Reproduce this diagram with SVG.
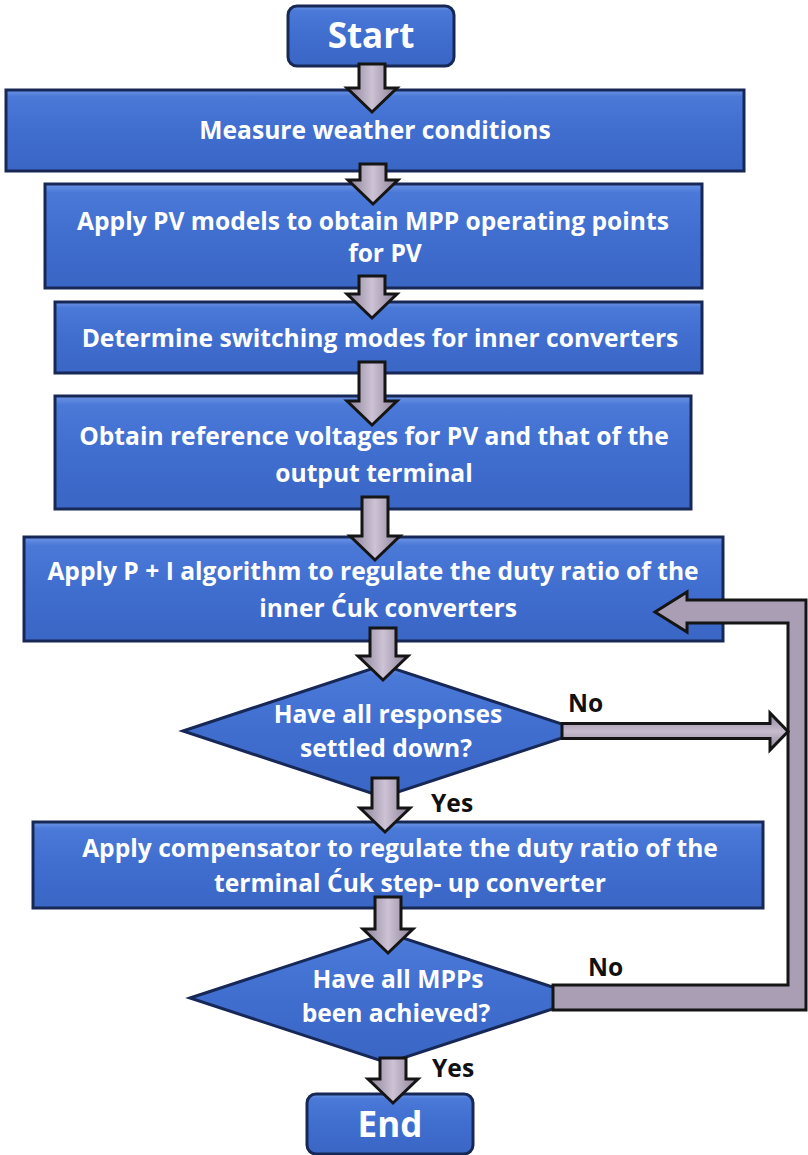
<svg xmlns="http://www.w3.org/2000/svg" width="808" height="1155" viewBox="0 0 808 1155">
  <defs>
    <linearGradient id="boxFill" x1="0" y1="0" x2="0" y2="1">
      <stop offset="0" stop-color="#6E95E6"/>
      <stop offset="0.08" stop-color="#4B79D8"/>
      <stop offset="0.5" stop-color="#406ECF"/>
      <stop offset="1" stop-color="#3A66C5"/>
    </linearGradient>
    <linearGradient id="arrowV" x1="0" y1="0" x2="1" y2="0">
      <stop offset="0" stop-color="#8A7F95"/>
      <stop offset="0.5" stop-color="#CDC3D5"/>
      <stop offset="1" stop-color="#8A7F95"/>
    </linearGradient>
    <linearGradient id="arrowH" x1="0" y1="0" x2="0" y2="1">
      <stop offset="0" stop-color="#8F8499"/>
      <stop offset="0.5" stop-color="#C6BCCE"/>
      <stop offset="1" stop-color="#8F8499"/>
    </linearGradient>
  </defs>
  <style>
    .box { fill: url(#boxFill); stroke: #172857; stroke-width: 3; }
    .lbl { font-family: "Open Sans", "Liberation Sans", sans-serif; font-weight: bold; fill: #FFFFFF; text-anchor: middle; font-size: 24.6px; }
    .term { font-size: 35px; }
    .branch { font-family: "Open Sans", "Liberation Sans", sans-serif; font-weight: bold; fill: #111111; font-size: 24.6px; }
    .down { fill: url(#arrowV); stroke: #151515; stroke-width: 3; stroke-linejoin: miter; }
    .loop { fill: #A99EB3; stroke: #151515; stroke-width: 3; stroke-linejoin: miter; }
    .side { fill: url(#arrowH); stroke: #151515; stroke-width: 3; stroke-linejoin: miter; }
  </style>

  <rect width="808" height="1155" fill="#FFFFFF"/>

  <!-- process nodes -->
  <g id="start">
    <rect class="box" x="288" y="6" width="166" height="60" rx="9"/>
    <text class="lbl term" x="371" y="48">Start</text>
  </g>
  <g id="measure">
    <rect class="box" x="6" y="90" width="738" height="81"/>
    <text class="lbl" x="375" y="139">Measure weather conditions</text>
  </g>
  <g id="pv-models">
    <rect class="box" x="45" y="184" width="657" height="104"/>
    <text class="lbl" x="373" y="230">Apply PV models to obtain MPP operating points</text>
    <text class="lbl" x="385" y="262">for PV</text>
  </g>
  <g id="switching">
    <rect class="box" x="55" y="302" width="647" height="71"/>
    <text class="lbl" x="380" y="347">Determine switching modes for inner converters</text>
  </g>
  <g id="reference">
    <rect class="box" x="55" y="396" width="636" height="113"/>
    <text class="lbl" x="374" y="445">Obtain reference voltages for PV and that of the</text>
    <text class="lbl" x="374" y="482">output terminal</text>
  </g>
  <g id="pi-control">
    <rect class="box" x="24" y="537" width="699" height="104"/>
    <text class="lbl" x="373" y="580">Apply P + I algorithm to regulate the duty ratio of the</text>
    <text class="lbl" x="388" y="617">inner Ćuk converters</text>
  </g>
  <g id="settled">
    <polygon class="box" points="183,731 383,665 583,731 383,797"/>
    <text class="lbl" x="388" y="723">Have all responses</text>
    <text class="lbl" x="386" y="757">settled down?</text>
  </g>
  <g id="compensator">
    <rect class="box" x="33" y="822" width="730" height="86"/>
    <text class="lbl" x="400" y="857">Apply compensator to regulate the duty ratio of the</text>
    <text class="lbl" x="410" y="892">terminal Ćuk step- up converter</text>
  </g>
  <g id="mpp-check">
    <polygon class="box" points="190,998 388,933 586,998 388,1063"/>
    <text class="lbl" x="398" y="988">Have all MPPs</text>
    <text class="lbl" x="396" y="1022">been achieved?</text>
  </g>
  <g id="end">
    <rect class="box" x="307" y="1094" width="166" height="60" rx="9"/>
    <text class="lbl term" x="390" y="1137">End</text>
  </g>

  <!-- block-arrow connectors -->
  <g id="connectors">
    <path class="down" d="M359,64 H385 V88 H397 L372,112 L347,88 H359 Z"/>
    <path class="down" d="M360,164 H386 V180 H398 L373,204 L348,180 H360 Z"/>
    <path class="down" d="M359,276 H385 V294 H397 L372,318 L347,294 H359 Z"/>
    <path class="down" d="M359,362 H385 V401 H397 L372,425 L347,401 H359 Z"/>
    <path class="down" d="M362,497 H388 V536 H400 L375,560 L350,536 H362 Z"/>
    <path class="down" d="M370,628 H396 V656 H408 L383,680 L358,656 H370 Z"/>
    <path class="down" d="M372,778 H398 V808 H410 L385,832 L360,808 H372 Z"/>
    <path class="down" d="M375,897 H401 V929 H413 L388,953 L363,929 H375 Z"/>
    <path class="down" d="M380,1058 H406 V1079 H418 L393,1103 L368,1079 H380 Z"/>
    <!-- feedback loop back into the P + I step -->
    <path class="loop" d="M553,985 H788 V623 H687 V632 L655,612 L687,592 V600 H806 V1010 H553 Z"/>
    <!-- "No" branch of the settling check -->
    <path class="side" d="M562,723.5 H770 V713 L788,731.5 L770,750 V738.5 H562 Z"/>
    <text class="branch" x="568" y="712">No</text>
    <text class="branch" x="431" y="812">Yes</text>
    <text class="branch" x="588" y="976">No</text>
    <text class="branch" x="432" y="1077">Yes</text>
  </g>
</svg>
